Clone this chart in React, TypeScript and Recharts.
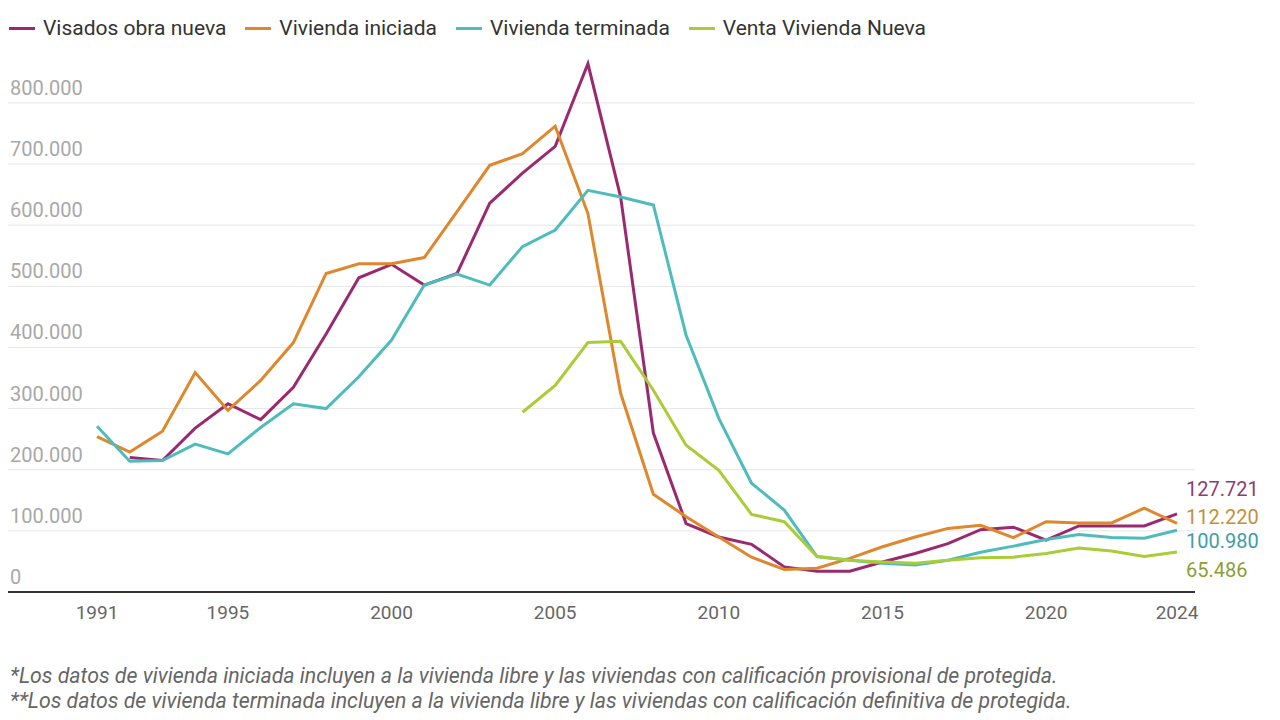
import React from 'react';
import { LineChart, Line, XAxis, YAxis, ReferenceLine, LabelList } from 'recharts';

// Viviendas en España, 1991-2024
const years = [
  1991, 1992, 1993, 1994, 1995, 1996, 1997, 1998, 1999, 2000, 2001, 2002, 2003, 2004, 2005, 2006, 2007,
  2008, 2009, 2010, 2011, 2012, 2013, 2014, 2015, 2016, 2017, 2018, 2019, 2020, 2021, 2022, 2023, 2024,
];

const visados = [
  null, 220000, 215000, 268000, 308000, 282000, 335000, 422000, 514000, 536000, 502000, 521000, 636000,
  685000, 729000, 864000, 646000, 260000, 112000, 90000, 78000, 41000, 34000, 34000, 49000, 63000,
  79000, 102000, 106000, 85000, 108000, 108000, 108000, 127721,
];

const iniciada = [
  254000, 229000, 263000, 359000, 297000, 346000, 408000, 521000, 537000, 537000, 547000, 622000, 698000,
  717000, 762000, 619000, 325000, 160000, 123000, 90000, 57000, 37000, 39000, 55000, 74000, 90000,
  104000, 109000, 89000, 115000, 113000, 113000, 137000, 112220,
];

const terminada = [
  271000, 214000, 215000, 242000, 226000, 269000, 308000, 300000, 352000, 412000, 502000, 520000, 502000,
  565000, 592000, 657000, 646000, 633000, 420000, 284000, 178000, 134000, 58000, 52000, 47000, 44000,
  52000, 65000, 75000, 86000, 94000, 89000, 88000, 100980,
];

const venta = [
  null, null, null, null, null, null, null, null, null, null, null, null, null,
  294000, 338000, 408000, 410000, 330000, 240000, 199000, 127000, 115000, 58000, 52000, 49000, 47000,
  52000, 56000, 57000, 63000, 72000, 67000, 58000, 65486,
];

const xTicks = [1991, 1995, 2000, 2005, 2010, 2015, 2020, 2024];
const yTicks = [0, 100000, 200000, 300000, 400000, 500000, 600000, 700000, 800000];

const series = [
  { key: 'visados', name: 'Visados obra nueva', color: '#9a2a70', labelColor: '#8c3e72', dy: -25 },
  { key: 'iniciada', name: 'Vivienda iniciada', color: '#de872c', labelColor: '#c48f3c', dy: -6 },
  { key: 'terminada', name: 'Vivienda terminada', color: '#4fbcbc', labelColor: '#3f9ea4', dy: 11 },
  { key: 'venta', name: 'Venta Vivienda Nueva', color: '#aacc36', labelColor: '#8c9e35', dy: 18 },
];

const data = years.map((year, i) => ({
  year,
  visados: visados[i],
  iniciada: iniciada[i],
  terminada: terminada[i],
  venta: venta[i],
}));

const fmt = (n: number) => String(n).replace(/\B(?=(\d{3})+(?!\d))/g, '.');

const renderYTick = (props: any) => {
  const { y, payload } = props;
  return (
    <text x={10} y={y - 8} textAnchor="start" fill="#a8a8a8" fontSize={20} fontFamily="Roboto">
      {fmt(payload.value)}
    </text>
  );
};

const endLabel = (color: string, dy: number) => (props: any) => {
  const { x, y, index, value } = props;
  if (index !== years.length - 1 || value == null) return null;
  return (
    <text x={x + 9} y={y + dy} dominantBaseline="central" fill={color} fontSize={20} fontFamily="Roboto">
      {fmt(value)}
    </text>
  );
};

export default function App() {
  return (
    <div
      style={{
        position: 'absolute',
        left: 0,
        top: 0,
        width: 1280,
        height: 720,
        background: '#fff',
        fontFamily: 'Roboto, sans-serif',
        overflow: 'hidden',
      }}
    >
      {/* legend */}
      <div style={{ position: 'absolute', left: 9, top: 15, display: 'flex', alignItems: 'center', height: 26 }}>
        {series.map((s) => (
          <div key={s.key} style={{ display: 'flex', alignItems: 'center', marginRight: 19 }}>
            <div style={{ width: 26, height: 3, background: s.color, marginRight: 8 }} />
            <span style={{ fontSize: 21, color: '#333' }}>{s.name}</span>
          </div>
        ))}
      </div>

      <div style={{ position: 'absolute', left: 0, top: 0 }}>
        <LineChart width={1280} height={640} data={data} margin={{ top: 54, right: 85, left: 7, bottom: 0 }}>
          {/* horizontal gridlines only at the labelled ticks */}
          {yTicks.slice(1).map((t) => (
            <ReferenceLine key={t} y={t} stroke="#e6e6e6" strokeWidth={1} />
          ))}
          <XAxis
            type="number"
            dataKey="year"
            domain={[1988.28, 2024.55]}
            ticks={xTicks}
            height={48}
            tickLine={false}
            tickSize={0}
            tickMargin={14}
            axisLine={{ stroke: '#333', strokeWidth: 2 }}
            tick={{ fill: '#666', fontSize: 19, fontFamily: 'Roboto' }}
          />
          <YAxis
            type="number"
            domain={[0, 880000]}
            ticks={yTicks}
            width={1}
            axisLine={false}
            tickLine={false}
            tick={renderYTick}
          />
          {series.map((s) => (
            <Line
              key={s.key}
              type="linear"
              dataKey={s.key}
              name={s.name}
              stroke={s.color}
              strokeWidth={3}
              dot={false}
              isAnimationActive={false}
            >
              <LabelList dataKey={s.key} content={endLabel(s.labelColor, s.dy)} />
            </Line>
          ))}
        </LineChart>
      </div>

      {/* notes */}
      <div
        style={{
          position: 'absolute',
          left: 10,
          top: 663,
          fontSize: 21.3,
          fontStyle: 'italic',
          color: '#666',
          lineHeight: '25px',
          whiteSpace: 'nowrap',
        }}
      >
        <div>*Los datos de vivienda iniciada incluyen a la vivienda libre y las viviendas con calificación provisional de protegida.</div>
        <div>**Los datos de vivienda terminada incluyen a la vivienda libre y las viviendas con calificación definitiva de protegida.</div>
      </div>
    </div>
  );
}
